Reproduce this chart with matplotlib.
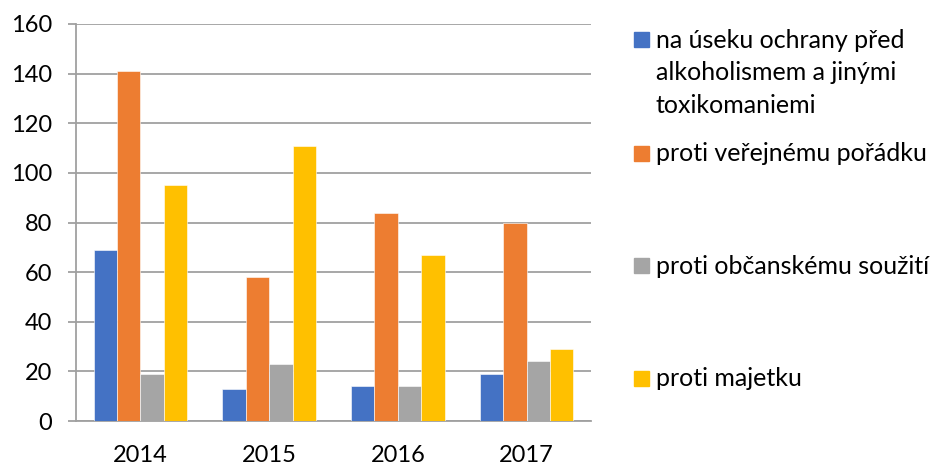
import matplotlib
matplotlib.use("Agg")
import matplotlib.pyplot as plt
import numpy as np
from matplotlib.patches import Rectangle

plt.rcParams['font.family'] = ['Lato', 'DejaVu Sans']

years = ["2014", "2015", "2016", "2017"]
series_names = [
    "na úseku ochrany před\nalkoholismem a jinými\ntoxikomaniemi",
    "proti veřejnému pořádku",
    "proti občanskému soužití",
    "proti majetku",
]
alkohol = [69, 13, 14, 19]
verejny_poradek = [141, 58, 84, 80]
obcanske_souziti = [19, 23, 14, 24]
majetek = [95, 111, 67, 29]
colors = ["#4472C4", "#ED7D31", "#A5A5A5", "#FFC000"]
yticks = [0, 20, 40, 60, 80, 100, 120, 140, 160]

W, H = 930, 466
fig = plt.figure(figsize=(W/100, H/100), dpi=100)
ax = fig.add_axes([76/W, 1-421/H, (591-76)/W, (421-24)/H])

data = [alkohol, verejny_poradek, obcanske_souziti, majetek]
x = np.arange(len(years))
bw = 1/5.5
for i, (vals, c) in enumerate(zip(data, colors)):
    ax.bar(x + (i-1.5)*bw, vals, width=bw, color=c, edgecolor='white', linewidth=0.4, zorder=3)

ax.set_xlim(-0.5, 3.5)
ax.set_ylim(0, 160)
ax.set_yticks(yticks)
ax.set_yticklabels([str(v) for v in yticks])
ax.set_xticks(x)
ax.set_xticklabels(years)
ax.grid(axis='y', color='#a0a0a0', linewidth=1.3, zorder=0)
for s in ['top', 'right']:
    ax.spines[s].set_visible(False)
ax.spines['left'].set_color('#a0a0a0')
ax.spines['bottom'].set_color('#a0a0a0')
ax.spines['left'].set_linewidth(1.3)
ax.spines['bottom'].set_linewidth(1.3)
ax.tick_params(axis='y', length=6, width=1.3, color='#a0a0a0', pad=11, labelsize=17, labelcolor='black')
ax.tick_params(axis='x', length=0, pad=17, labelsize=17, labelcolor='black')

# legend drawn manually
marker_centers = [39.5, 153, 265.5, 378.5]
for name, c, yy in zip(series_names, colors, marker_centers):
    fig.add_artist(Rectangle((634/W, 1-(yy+7.5)/H), 15/W, 15/H, color=c, transform=fig.transFigure))
    for k, line in enumerate(name.split("\n")):
        base = yy + 8 + 32.7*k
        fig.text(656/W, 1-base/H, line, fontsize=18, va='baseline', ha='left')

fig.savefig("out.png", dpi=100)
